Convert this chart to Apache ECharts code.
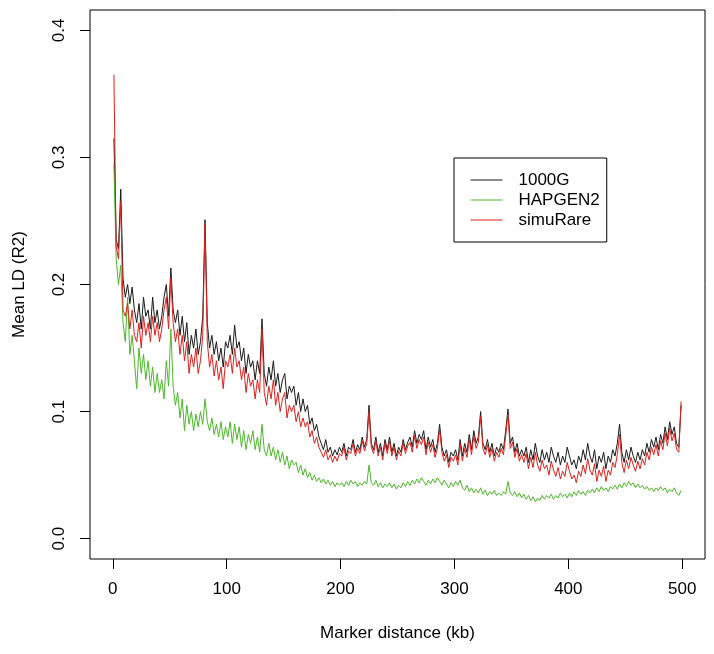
<!DOCTYPE html>
<html>
<head>
<meta charset="utf-8">
<script src="https://cdn.jsdelivr.net/npm/echarts@6/dist/echarts.min.js"></script>
<style>
html,body{margin:0;padding:0;background:#fff;}
#chart{width:714px;height:654px;}
</style>
</head>
<body>
<div id="chart"></div>
<script>
// Marker distance (kb)
const distanceKb = [
1,3,5,7,9,11,13,15,17,19,
21,23,25,27,29,31,33,35,37,39,
41,43,45,47,49,51,53,55,57,59,
61,63,65,67,69,71,73,75,77,79,
81,83,85,87,89,91,93,95,97,99,
101,103,105,107,109,111,113,115,117,119,
121,123,125,127,129,131,133,135,137,139,
141,143,145,147,149,151,153,155,157,159,
161,163,165,167,169,171,173,175,177,179,
181,183,185,187,189,191,193,195,197,199,
201,203,205,207,209,211,213,215,217,219,
221,223,225,227,229,231,233,235,237,239,
241,243,245,247,249,251,253,255,257,259,
261,263,265,267,269,271,273,275,277,279,
281,283,285,287,289,291,293,295,297,299,
301,303,305,307,309,311,313,315,317,319,
321,323,325,327,329,331,333,335,337,339,
341,343,345,347,349,351,353,355,357,359,
361,363,365,367,369,371,373,375,377,379,
381,383,385,387,389,391,393,395,397,399,
401,403,405,407,409,411,413,415,417,419,
421,423,425,427,429,431,433,435,437,439,
441,443,445,447,449,451,453,455,457,459,
461,463,465,467,469,471,473,475,477,479,
481,483,485,487,489,491,493,495,497,499
];

const ld1000G = [
0.315,0.235,0.228,0.275,0.205,0.19,0.2,0.185,0.198,0.18,
0.17,0.185,0.165,0.19,0.175,0.18,0.165,0.19,0.17,0.18,
0.165,0.175,0.19,0.2,0.175,0.213,0.18,0.17,0.18,0.16,
0.175,0.155,0.17,0.145,0.16,0.15,0.165,0.145,0.155,0.175,
0.251,0.17,0.15,0.16,0.145,0.155,0.14,0.15,0.135,0.155,
0.15,0.16,0.145,0.168,0.15,0.155,0.14,0.15,0.13,0.145,
0.135,0.14,0.125,0.14,0.13,0.173,0.13,0.12,0.135,0.125,
0.14,0.12,0.13,0.115,0.125,0.13,0.11,0.12,0.115,0.12,
0.105,0.115,0.1,0.11,0.1,0.105,0.09,0.095,0.085,0.09,
0.08,0.075,0.07,0.078,0.068,0.072,0.065,0.07,0.066,0.072,
0.068,0.075,0.065,0.072,0.07,0.078,0.068,0.074,0.07,0.08,
0.072,0.078,0.105,0.075,0.07,0.08,0.068,0.075,0.065,0.078,
0.07,0.08,0.068,0.075,0.065,0.072,0.068,0.078,0.07,0.076,
0.08,0.072,0.085,0.075,0.082,0.078,0.085,0.07,0.08,0.072,
0.078,0.068,0.075,0.09,0.072,0.065,0.07,0.06,0.068,0.065,
0.07,0.062,0.078,0.065,0.075,0.068,0.082,0.07,0.085,0.075,
0.08,0.1,0.075,0.07,0.078,0.068,0.075,0.065,0.072,0.068,
0.075,0.07,0.085,0.102,0.075,0.08,0.068,0.075,0.065,0.07,
0.065,0.072,0.06,0.07,0.062,0.075,0.065,0.06,0.07,0.062,
0.068,0.06,0.072,0.065,0.06,0.068,0.058,0.065,0.06,0.072,
0.065,0.058,0.062,0.055,0.065,0.06,0.07,0.062,0.075,0.065,
0.06,0.07,0.055,0.065,0.06,0.068,0.055,0.065,0.06,0.07,
0.065,0.075,0.09,0.068,0.06,0.07,0.062,0.072,0.065,0.06,
0.068,0.062,0.07,0.065,0.075,0.068,0.078,0.072,0.08,0.07,
0.082,0.075,0.088,0.078,0.092,0.082,0.088,0.075,0.072,0.105
];

const ldHAPGEN2 = [
0.295,0.22,0.2,0.215,0.17,0.155,0.19,0.145,0.16,0.14,
0.118,0.15,0.13,0.145,0.125,0.14,0.12,0.135,0.115,0.13,
0.115,0.125,0.11,0.14,0.12,0.165,0.12,0.105,0.115,0.095,
0.11,0.085,0.105,0.09,0.1,0.085,0.098,0.088,0.1,0.09,
0.11,0.092,0.085,0.095,0.082,0.09,0.08,0.092,0.078,0.088,
0.08,0.092,0.075,0.09,0.078,0.088,0.072,0.085,0.07,0.082,
0.075,0.085,0.07,0.08,0.068,0.09,0.07,0.065,0.075,0.065,
0.072,0.062,0.07,0.06,0.068,0.058,0.065,0.055,0.062,0.058,
0.06,0.052,0.058,0.05,0.055,0.048,0.052,0.046,0.05,0.045,
0.048,0.044,0.047,0.043,0.046,0.042,0.045,0.041,0.044,0.042,
0.044,0.041,0.045,0.042,0.046,0.043,0.045,0.041,0.044,0.042,
0.045,0.043,0.058,0.044,0.042,0.046,0.041,0.044,0.04,0.043,
0.041,0.044,0.04,0.043,0.039,0.042,0.04,0.044,0.041,0.045,
0.042,0.046,0.043,0.047,0.044,0.048,0.045,0.042,0.046,0.043,
0.047,0.044,0.048,0.045,0.042,0.046,0.043,0.04,0.044,0.041,
0.045,0.042,0.046,0.04,0.038,0.042,0.037,0.04,0.036,0.039,
0.036,0.04,0.035,0.038,0.034,0.037,0.035,0.038,0.034,0.036,
0.034,0.037,0.035,0.045,0.036,0.034,0.037,0.033,0.036,0.032,
0.035,0.031,0.034,0.03,0.033,0.029,0.032,0.03,0.034,0.031,
0.034,0.032,0.035,0.031,0.034,0.032,0.036,0.033,0.035,0.032,
0.036,0.033,0.037,0.034,0.038,0.035,0.037,0.034,0.038,0.036,
0.039,0.036,0.04,0.037,0.041,0.038,0.04,0.037,0.041,0.039,
0.042,0.039,0.043,0.04,0.044,0.041,0.045,0.042,0.044,0.04,
0.043,0.04,0.042,0.039,0.041,0.038,0.04,0.037,0.04,0.038,
0.041,0.038,0.04,0.036,0.039,0.037,0.04,0.036,0.034,0.038
];

const ldSimuRare = [
0.365,0.23,0.22,0.265,0.18,0.175,0.185,0.165,0.18,0.16,
0.155,0.17,0.15,0.175,0.16,0.17,0.155,0.175,0.16,0.17,
0.155,0.165,0.18,0.19,0.165,0.205,0.17,0.155,0.165,0.145,
0.16,0.14,0.155,0.13,0.145,0.135,0.15,0.13,0.14,0.16,
0.248,0.155,0.135,0.145,0.128,0.14,0.125,0.135,0.118,0.14,
0.135,0.145,0.13,0.15,0.135,0.14,0.125,0.135,0.115,0.13,
0.12,0.125,0.11,0.125,0.115,0.165,0.115,0.105,0.12,0.11,
0.125,0.105,0.115,0.1,0.11,0.115,0.095,0.105,0.1,0.105,
0.092,0.1,0.088,0.095,0.088,0.092,0.08,0.085,0.075,0.08,
0.072,0.068,0.064,0.07,0.062,0.066,0.06,0.065,0.061,0.067,
0.065,0.072,0.062,0.069,0.067,0.075,0.065,0.071,0.067,0.077,
0.069,0.075,0.1,0.072,0.067,0.077,0.065,0.072,0.062,0.075,
0.067,0.077,0.065,0.072,0.062,0.069,0.065,0.075,0.067,0.073,
0.076,0.068,0.081,0.071,0.078,0.074,0.08,0.066,0.076,0.068,
0.074,0.064,0.071,0.086,0.068,0.061,0.066,0.056,0.064,0.061,
0.066,0.058,0.074,0.061,0.071,0.064,0.078,0.066,0.081,0.071,
0.076,0.096,0.071,0.066,0.074,0.064,0.071,0.061,0.068,0.064,
0.071,0.066,0.081,0.098,0.071,0.076,0.064,0.071,0.061,0.066,
0.06,0.067,0.055,0.064,0.056,0.068,0.058,0.053,0.062,0.055,
0.058,0.05,0.061,0.054,0.049,0.056,0.047,0.053,0.049,0.06,
0.053,0.047,0.05,0.044,0.053,0.049,0.058,0.051,0.063,0.054,
0.05,0.059,0.045,0.054,0.049,0.057,0.045,0.054,0.05,0.06,
0.056,0.066,0.082,0.06,0.052,0.062,0.055,0.064,0.058,0.053,
0.061,0.055,0.063,0.058,0.068,0.062,0.072,0.066,0.074,0.065,
0.077,0.07,0.083,0.073,0.087,0.077,0.083,0.07,0.068,0.108
];

const xTicks = [0, 100, 200, 300, 400, 500];
const yTicks = [0, 0.1, 0.2, 0.3, 0.4];
const seriesNames = ['1000G', 'HAPGEN2', 'simuRare'];
const seriesColors = ['#1a1a1a', '#4db82a', '#e0201c'];

const FONT = '"Liberation Sans", Arial, Helvetica, sans-serif';
const pairs = arr => distanceKb.map((x, i) => [x, arr[i]]);
const seriesValues = [ld1000G, ldHAPGEN2, ldSimuRare];

const chart = echarts.init(document.getElementById('chart'), null, {renderer: 'canvas'});
chart.setOption({
  animation: false,
  backgroundColor: '#fff',
  grid: {left: 90, right: 9, top: 10, bottom: 95, show: true, borderColor: '#000', borderWidth: 1, backgroundColor: 'transparent'},
  xAxis: {
    type: 'value', min: -20, max: 520,
    name: 'Marker distance (kb)', nameLocation: 'middle', nameGap: 66,
    nameTextStyle: {fontFamily: FONT, fontSize: 17, color: '#000'},
    axisLine: {show: false, onZero: false},
    splitLine: {show: false},
    axisTick: {show: true, inside: false, length: 10, customValues: xTicks, lineStyle: {color: '#000', width: 1}},
    axisLabel: {customValues: xTicks, margin: 22, fontFamily: FONT, fontSize: 17, color: '#000'}
  },
  yAxis: {
    type: 'value', min: -0.016, max: 0.416,
    name: 'Mean LD (R2)', nameLocation: 'middle', nameGap: 62, nameRotate: 90,
    nameTextStyle: {fontFamily: FONT, fontSize: 17, color: '#000'},
    axisLine: {show: false, onZero: false},
    splitLine: {show: false},
    axisTick: {show: true, inside: false, length: 10, customValues: yTicks, lineStyle: {color: '#000', width: 1}},
    axisLabel: {customValues: yTicks, rotate: 90, margin: 22, fontFamily: FONT, fontSize: 17, color: '#000',
      formatter: v => v.toFixed(1)}
  },
  legend: {
    orient: 'vertical', left: 454, top: 158,
    padding: [12, 7, 12, 16], itemGap: 0, itemWidth: 32, itemHeight: 20,
    borderColor: '#000', borderWidth: 1, backgroundColor: '#fff',
    itemStyle: {opacity: 0},
    lineStyle: {width: 1},
    textStyle: {fontFamily: FONT, fontSize: 17, color: '#000', padding: [0, 0, 0, 11], lineHeight: 20},
    data: seriesNames
  },
  series: seriesNames.map((name, i) => ({
    name, type: 'line', data: pairs(seriesValues[i]),
    symbol: 'none', showSymbol: false, smooth: false,
    color: seriesColors[i],
    lineStyle: {width: 1, color: seriesColors[i]},
    z: 2 + i
  }))
});
</script>
</body>
</html>
